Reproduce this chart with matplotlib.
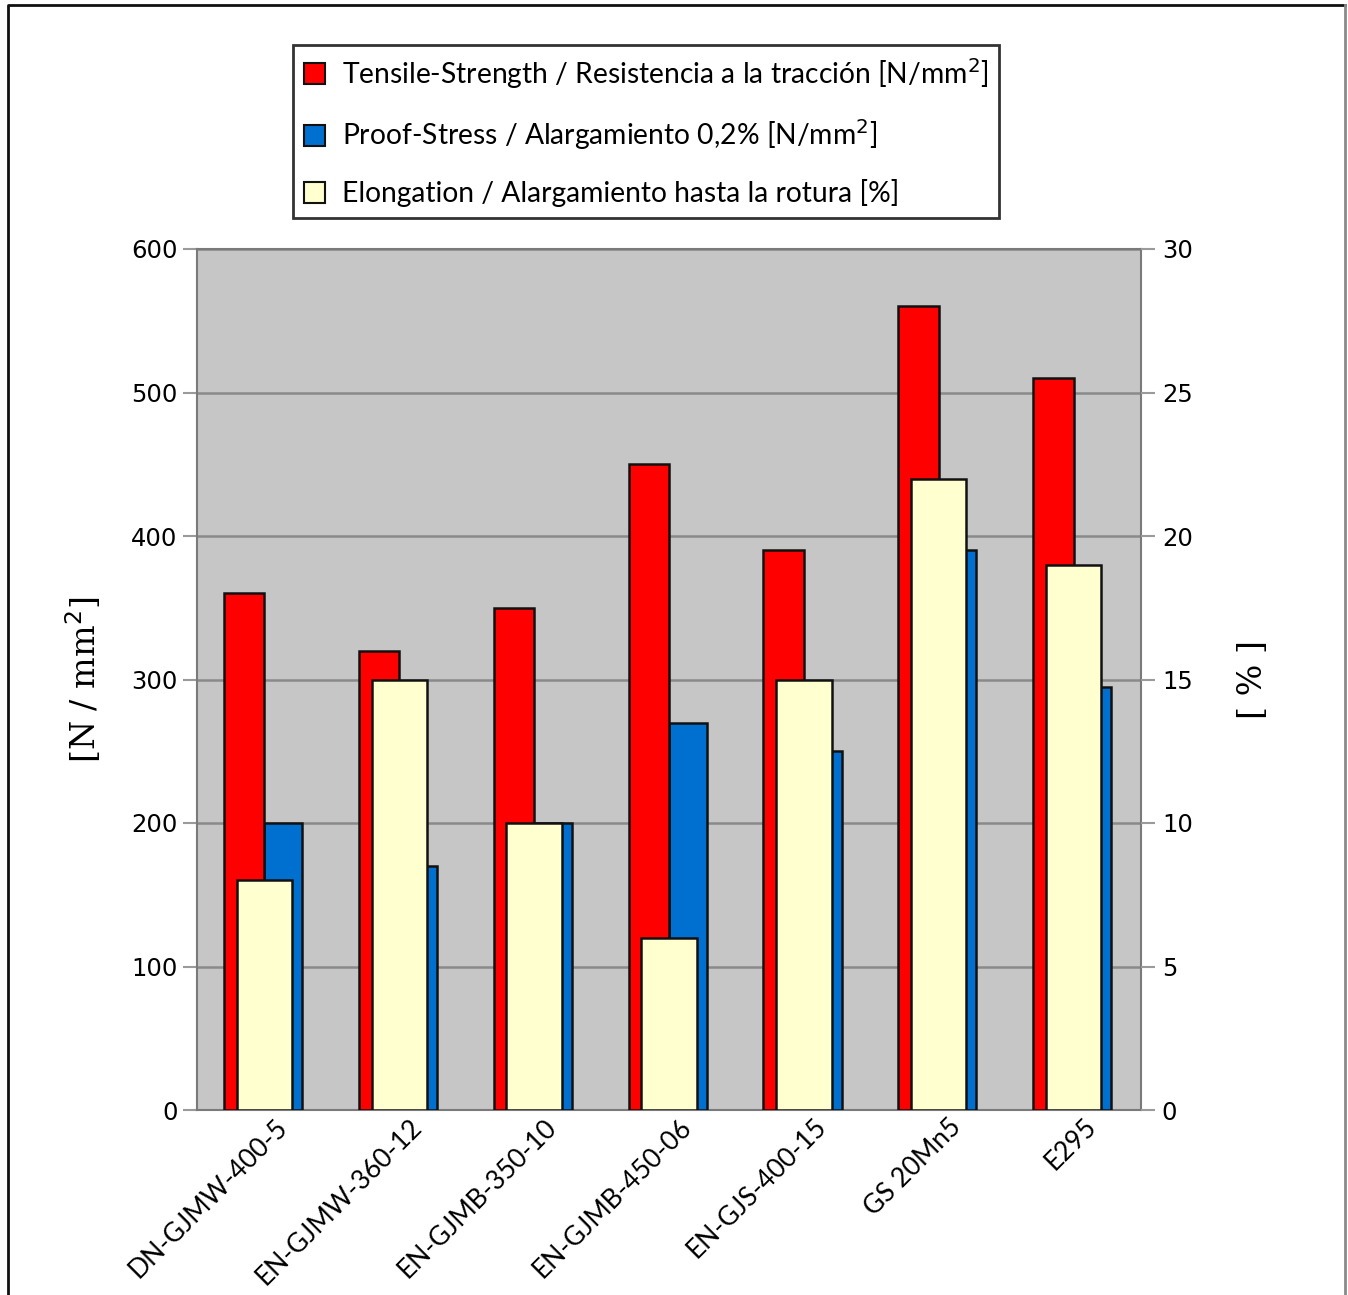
import numpy as np
import matplotlib.pyplot as plt
import matplotlib.transforms as mtransforms
from matplotlib.lines import Line2D
from matplotlib.patches import Patch

# Materiales y propiedades mecanicas
materiales = ['DN-GJMW-400-5', 'EN-GJMW-360-12', 'EN-GJMB-350-10', 'EN-GJMB-450-06',
              'EN-GJS-400-15', 'GS 20Mn5', 'E295']
traccion = [360, 320, 350, 450, 390, 560, 510]         # N/mm2
limite_elastico = [200, 170, 200, 270, 250, 390, 295]  # N/mm2
alargamiento = [8, 15, 10, 6, 15, 22, 19]              # %

etiquetas = ['Tensile-Strength / Resistencia a la tracción [N/mm$^2$]',
             'Proof-Stress / Alargamiento 0,2% [N/mm$^2$]',
             'Elongation / Alargamiento hasta la rotura [%]']

ROJO = '#ff0000'
AZUL = '#0070d0'
CREMA = '#ffffd0'
FONDO = '#c6c6c6'
BORDE = '#111111'

W, H = 1348, 1295
fig = plt.figure(figsize=(W / 100, H / 100), dpi=100)

ax = fig.add_axes([197 / W, 1 - 1110 / H, (1141 - 197) / W, (1110 - 249) / H])
ax.set_facecolor(FONDO)
x = np.arange(len(materiales))

# roja a la izquierda del centro, azul a la derecha (detras)
ax.bar(x - 0.3, traccion, width=0.3, align='edge', color=ROJO, edgecolor=BORDE, lw=1.8, zorder=4)
ax.bar(x, limite_elastico, width=0.28, align='edge', color=AZUL, edgecolor=BORDE, lw=1.8, zorder=3)

ax.set_xlim(-0.5, len(x) - 0.5)
ax.set_ylim(0, 600)
ax.set_yticks(range(0, 601, 100))
ax.grid(axis='y', color='#8a8a8a', lw=1.8, zorder=1)
ax.set_axisbelow(True)
for s in ax.spines.values():
    s.set_color('#7a7a7a')
    s.set_linewidth(1.5)
ax.tick_params(axis='y', length=10, width=1.5, color='#9a9a9a', labelsize=17.5, pad=4)
ax.tick_params(axis='x', length=0, pad=3)
ax.set_xticks(x)
ax.set_xticklabels(materiales, rotation=45, ha='right', rotation_mode='anchor',
                   family='Lato', fontsize=19)
desplaza = mtransforms.ScaledTranslation(0.10, 0, fig.dpi_scale_trans)
for t in ax.get_xticklabels():
    t.set_transform(t.get_transform() + desplaza)
ax.set_ylabel('[N / mm$^2$]', family='DejaVu Serif', fontsize=24, labelpad=20)

ax2 = ax.twinx()
ax2.bar(x, alargamiento, width=0.41, color=CREMA, edgecolor=BORDE, lw=1.8, zorder=3)
ax2.set_ylim(0, 30)
ax2.set_yticks(range(0, 31, 5))
for s in ax2.spines.values():
    s.set_visible(False)
ax2.tick_params(axis='y', length=10, width=1.5, color='#9a9a9a', labelsize=17.5, pad=5)
ax2.set_ylabel('[ % ]', family='DejaVu Serif', fontsize=24, labelpad=32)

handles = [Patch(facecolor=c, edgecolor=BORDE, lw=1.5) for c in (ROJO, AZUL, CREMA)]
leg = fig.legend(handles, etiquetas, loc='upper left', bbox_to_anchor=(293 / W, 1 - 45 / H),
                 prop={'family': 'Lato', 'size': 20.3}, frameon=True, fancybox=False,
                 edgecolor='black', handlelength=0.75, handleheight=0.75, handletextpad=0.6,
                 labelspacing=0.95, borderpad=0.38, borderaxespad=0)
leg.get_frame().set_linewidth(2)

# marco exterior
fig.add_artist(Line2D([8 / W, 8 / W, 1345 / W], [0, 1 - 5 / H, 1 - 5 / H],
                      transform=fig.transFigure, color=BORDE, lw=2))
fig.add_artist(Line2D([1345 / W, 1345 / W], [1 - 5 / H, 0],
                      transform=fig.transFigure, color='#8a8a8a', lw=2))

fig.savefig('out.png', dpi=100)
